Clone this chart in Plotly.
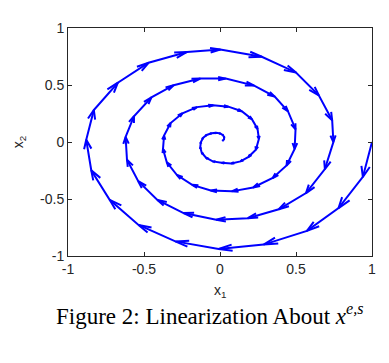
import plotly.graph_objects as go

# Trajectory vertices (x1, x2), in plotting order
x1 = [1.000, 0.940, 0.780, 0.572, 0.287, -0.009, -0.294, -0.536, -0.726, -0.847,
      -0.880, -0.830, -0.672, -0.470, -0.217, 0.002, 0.275, 0.500, 0.650, 0.738,
      0.746, 0.690, 0.566, 0.387, 0.183, -0.025, -0.240, -0.412, -0.538, -0.612,
      -0.621, -0.566, -0.451, -0.305, -0.130, 0.038, 0.225, 0.360, 0.447, 0.497,
      0.491, 0.438, 0.347, 0.218, 0.077, -0.061, -0.183, -0.283, -0.350, -0.375,
      -0.368, -0.325, -0.247, -0.152, -0.045, 0.055, 0.143, 0.210, 0.247, 0.256,
      0.236, 0.188, 0.135, 0.075, 0.010, -0.048, -0.092, -0.120, -0.130, -0.126,
      -0.112, -0.088, -0.056, -0.025, 0.002, 0.020, 0.028, 0.026, 0.016]
x2 = [0.000, -0.306, -0.580, -0.780, -0.900, -0.938, -0.872, -0.728, -0.507, -0.248,
      0.019, 0.280, 0.520, 0.695, 0.790, 0.812, 0.748, 0.610, 0.410, 0.190,
      0.000, -0.238, -0.448, -0.590, -0.668, -0.682, -0.623, -0.508, -0.344, -0.155,
      0.044, 0.226, 0.392, 0.498, 0.556, 0.556, 0.495, 0.398, 0.270, 0.112,
      -0.061, -0.206, -0.316, -0.399, -0.433, -0.426, -0.376, -0.290, -0.178, -0.061,
      0.056, 0.166, 0.252, 0.306, 0.322, 0.310, 0.270, 0.200, 0.115, 0.028,
      -0.068, -0.130, -0.170, -0.188, -0.182, -0.170, -0.138, -0.094, -0.046, -0.002,
      0.036, 0.062, 0.076, 0.080, 0.074, 0.060, 0.040, 0.022, 0.010]

tick_vals = [-1, -0.5, 0, 0.5, 1]
tick_text = ["-1", "-0.5", "0", "0.5", "1"]

BLUE = "#0000ff"
ALPHA = 0.3   # arrow head length relative to the arrow
BETA = 0.3    # arrow head half-width relative to head length

# arrow heads, built from consecutive vertices (quiver style, data units)
hx, hy = [], []
for k in range(len(x1) - 1):
    u = x1[k + 1] - x1[k]
    v = x2[k + 1] - x2[k]
    tx, ty = x1[k + 1], x2[k + 1]
    hx += [tx - ALPHA * (u + BETA * v), tx, tx - ALPHA * (u - BETA * v), None]
    hy += [ty - ALPHA * (v - BETA * u), ty, ty - ALPHA * (v + BETA * u), None]

fig = go.Figure()
fig.add_trace(go.Scatter(x=x1, y=x2, mode="lines",
                         line=dict(color=BLUE, width=2), hoverinfo="skip"))
fig.add_trace(go.Scatter(x=hx, y=hy, mode="lines",
                         line=dict(color=BLUE, width=2), hoverinfo="skip"))

axis_common = dict(
    range=[-1, 1], tickvals=tick_vals, ticktext=tick_text,
    ticks="inside", ticklen=4, tickwidth=1, tickcolor="#262626",
    showline=True, linecolor="#262626", linewidth=1, mirror="ticks",
    showgrid=False, zeroline=False,
    tickfont=dict(family="Liberation Sans, Arial, sans-serif", size=14, color="#262626"),
)

fig.update_layout(
    width=381, height=355,
    margin=dict(l=60, r=17, t=16, b=107),
    paper_bgcolor="white", plot_bgcolor="white",
    showlegend=False,
    xaxis=dict(**axis_common),
    yaxis=dict(**axis_common),
    annotations=[
        dict(text="x<sub>1</sub>", xref="paper", yref="paper", x=0.5, y=-0.155,
             xanchor="center", yanchor="middle", showarrow=False,
             font=dict(family="Liberation Sans, Arial, sans-serif", size=14, color="#262626")),
        dict(text="x<sub>2</sub>", xref="paper", yref="paper", x=-0.16, y=0.5,
             xanchor="center", yanchor="middle", showarrow=False, textangle=-90,
             font=dict(family="Liberation Sans, Arial, sans-serif", size=14, color="#262626")),
        dict(text="Figure 2: Linearization About <i>x</i><sup><i>e,s</i></sup>",
             xref="paper", yref="paper", x=0.464, y=-0.258,
             xanchor="center", yanchor="middle", showarrow=False,
             font=dict(family="Liberation Serif, Times New Roman, serif", size=23, color="black")),
    ],
)

fig.write_html("out.html")
